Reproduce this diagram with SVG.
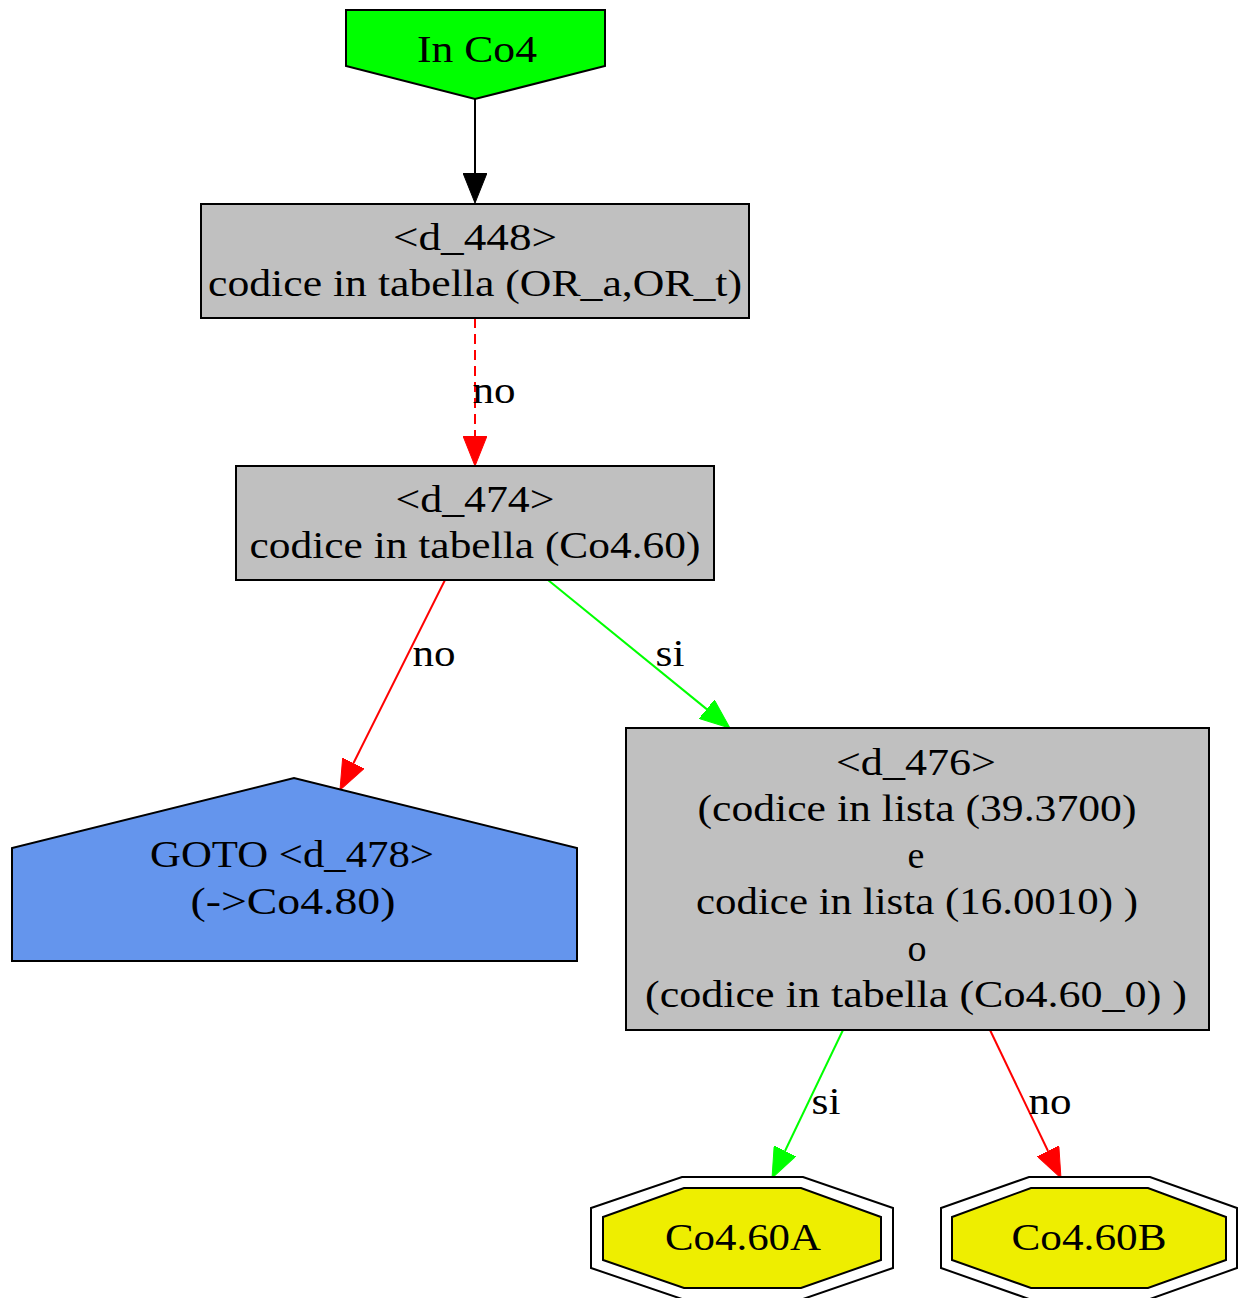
<svg xmlns="http://www.w3.org/2000/svg" width="1238" height="1298" viewBox="0 0 1238 1298">
<style>
text{font-family:"Liberation Serif","DejaVu Serif",serif;font-size:38px;fill:#000;text-anchor:middle}
.node{stroke:#000;stroke-width:2}
.edge{fill:none;stroke-width:2}
.blk{stroke:#000}
.red{stroke:#ff0000}
.grn{stroke:#00ff00}
</style>
<defs>
<marker id="ah-black" markerUnits="userSpaceOnUse" markerWidth="30" markerHeight="24" viewBox="0 0 30 24" refX="0" refY="12" orient="auto"><path d="M0,0 L30,12 L0,24 z" fill="#000" stroke="#000" stroke-width="1"/></marker>
<marker id="ah-red" markerUnits="userSpaceOnUse" markerWidth="30" markerHeight="24" viewBox="0 0 30 24" refX="0" refY="12" orient="auto"><path d="M0,0 L30,12 L0,24 z" fill="#ff0000" stroke="#ff0000" stroke-width="1"/></marker>
<marker id="ah-green" markerUnits="userSpaceOnUse" markerWidth="30" markerHeight="24" viewBox="0 0 30 24" refX="0" refY="12" orient="auto"><path d="M0,0 L30,12 L0,24 z" fill="#00ff00" stroke="#00ff00" stroke-width="1"/></marker>
</defs>
<rect width="1238" height="1298" fill="#fff"/>
<g id="connectors">
<g id="e1"><path class="edge blk" d="M475,99 L475,173" marker-end="url(#ah-black)"/></g>
<g id="e2"><path class="edge red" stroke-dasharray="10,6" d="M475,318 L475,436" marker-end="url(#ah-red)"/><text x="494" y="403" textLength="43" lengthAdjust="spacingAndGlyphs">no</text></g>
<g id="e3"><path class="edge red" d="M445,580 L353.4,763.2" marker-end="url(#ah-red)"/><text x="434" y="666" textLength="43" lengthAdjust="spacingAndGlyphs">no</text></g>
<g id="e4"><path class="edge grn" d="M548,580 L706.7,709.1" marker-end="url(#ah-green)"/><text x="670" y="666" textLength="29" lengthAdjust="spacingAndGlyphs">si</text></g>
<g id="e5"><path class="edge grn" d="M843,1030 L785,1151" marker-end="url(#ah-green)"/><text x="826" y="1114" textLength="29" lengthAdjust="spacingAndGlyphs">si</text></g>
<g id="e6"><path class="edge red" d="M990,1030 L1048,1151" marker-end="url(#ah-red)"/><text x="1050" y="1114" textLength="43" lengthAdjust="spacingAndGlyphs">no</text></g>
</g>
<g id="in_co4">
<polygon class="node" fill="#00ff00" points="346,10 605,10 605,66 475,99 346,66"/>
<text x="477" y="62" textLength="120" lengthAdjust="spacingAndGlyphs">In Co4</text>
</g>
<g id="d_448">
<rect class="node" fill="#c0c0c0" x="201" y="204" width="548" height="114"/>
<text x="475" y="250" textLength="164" lengthAdjust="spacingAndGlyphs">&lt;d_448&gt;</text>
<text x="475" y="296" textLength="534" lengthAdjust="spacingAndGlyphs">codice in tabella (OR_a,OR_t)</text>
</g>
<g id="d_474">
<rect class="node" fill="#c0c0c0" x="236" y="466" width="478" height="114"/>
<text x="475" y="512" textLength="159" lengthAdjust="spacingAndGlyphs">&lt;d_474&gt;</text>
<text x="475" y="558" textLength="451" lengthAdjust="spacingAndGlyphs">codice in tabella (Co4.60)</text>
</g>
<g id="goto_d_478">
<polygon class="node" fill="#6495ed" points="12,961 577,961 577,848 294,778 12,848"/>
<text x="292" y="867" textLength="284" lengthAdjust="spacingAndGlyphs">GOTO &lt;d_478&gt;</text>
<text x="293" y="914" textLength="205" lengthAdjust="spacingAndGlyphs">(-&gt;Co4.80)</text>
</g>
<g id="d_476">
<rect class="node" fill="#c0c0c0" x="626" y="728" width="583" height="302"/>
<text x="916" y="775" textLength="160" lengthAdjust="spacingAndGlyphs">&lt;d_476&gt;</text>
<text x="917" y="821" textLength="439" lengthAdjust="spacingAndGlyphs">(codice in lista (39.3700)</text>
<text x="916" y="868">e</text>
<text x="917" y="914" textLength="442" lengthAdjust="spacingAndGlyphs">codice in lista (16.0010) )</text>
<text x="917" y="961">o</text>
<text x="916" y="1007" textLength="542" lengthAdjust="spacingAndGlyphs">(codice in tabella (Co4.60_0) )</text>
</g>
<g id="co4_60a">
<polygon class="node" fill="none" points="682,1177 803,1177 893,1208 893,1268 803,1299 682,1299 591,1268 591,1208"/>
<polygon class="node" fill="#eeee00" points="684,1188 801,1188 881,1217 881,1260 801,1288 684,1288 603,1260 603,1217"/>
<text x="743" y="1250" textLength="156" lengthAdjust="spacingAndGlyphs">Co4.60A</text>
</g>
<g id="co4_60b">
<polygon class="node" fill="none" points="1029,1177 1150,1177 1237,1208 1237,1268 1150,1299 1029,1299 941,1268 941,1208"/>
<polygon class="node" fill="#eeee00" points="1031,1188 1148,1188 1226,1217 1226,1260 1148,1288 1031,1288 952,1260 952,1217"/>
<text x="1089" y="1250" textLength="155" lengthAdjust="spacingAndGlyphs">Co4.60B</text>
</g>
</svg>
